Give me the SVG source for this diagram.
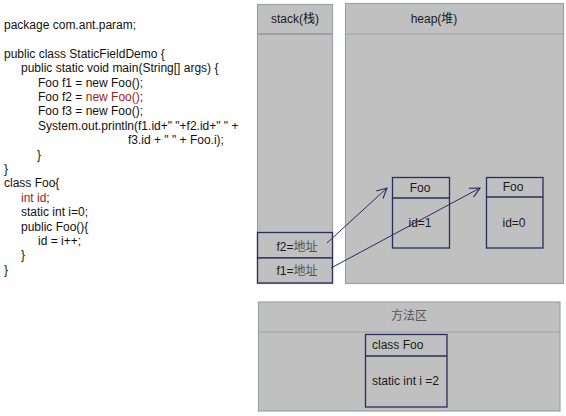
<svg xmlns="http://www.w3.org/2000/svg" width="566" height="416" viewBox="0 0 566 416">
<style>
.code{font-family:"Liberation Sans","Noto Sans CJK SC",sans-serif;font-size:12px;fill:#111}
.red{fill:#a3201c}
.panel{fill:#c0c0c0;stroke:#9aa3a3;stroke-width:1.2}
.box{fill:#c0c0c0;stroke:#2c2b5c;stroke-width:1.3}
.t{font-family:"Liberation Sans","Noto Sans CJK SC",sans-serif;font-size:12px;fill:#1a1a1a}
.cn{fill:#555}
.mid{text-anchor:middle}
.conn{stroke:#2c2b5c;stroke-width:1;fill:none;marker-end:url(#arr)}
</style>
<defs>
<marker id="arr" viewBox="0 0 12 12" refX="11" refY="6" markerWidth="12" markerHeight="12" markerUnits="userSpaceOnUse" orient="auto">
<polyline points="1,1 11,6 1,11" fill="none" stroke="#2c2b5c" stroke-width="1.1"/>
</marker>
</defs>
<rect width="566" height="416" fill="#fff"/>
<g id="code" class="code">
<text x="4" y="29">package com.ant.param;</text>
<text x="4" y="58">public class StaticFieldDemo {</text>
<text x="21" y="72">public static void main(String[] args) {</text>
<text x="38" y="87">Foo f1 = new Foo();</text>
<text x="38" y="101">Foo f2 = <tspan class="red">new Foo()</tspan>;</text>
<text x="38" y="115">Foo f3 = new Foo();</text>
<text x="38" y="130">System.out.println(f1.id+" "+f2.id+" " +</text>
<text x="128" y="144">f3.id + " " + Foo.i);</text>
<text x="37" y="159">}</text>
<text x="4" y="173">}</text>
<text x="4" y="187">class Foo{</text>
<text x="21" y="202"><tspan class="red">int id</tspan>;</text>
<text x="21" y="216">static int i=0;</text>
<text x="21" y="231">public Foo(){</text>
<text x="38" y="245">id = i++;</text>
<text x="21" y="259">}</text>
<text x="4" y="274">}</text>
</g>
<g id="stack">
<rect class="panel" x="257.5" y="4.5" width="75" height="279"/>
<line x1="257.5" y1="34" x2="332.5" y2="34" stroke="#9aa3a3" stroke-width="2"/>
<text class="t mid" x="295" y="23">stack(栈)</text>
</g>
<g id="heap">
<rect class="panel" x="345.5" y="3.5" width="218" height="280"/>
<line x1="345.5" y1="34" x2="563.5" y2="34" stroke="#9aa3a3" stroke-width="1.2"/>
<text class="t mid" x="434" y="23">heap(堆)</text>
</g>
<g id="f2">
<rect class="box" x="257.5" y="232.5" width="75" height="25.5"/>
<text class="t mid" x="297" y="251">f2=<tspan class="cn">地址</tspan></text>
</g>
<g id="f1">
<rect class="box" x="257.5" y="258" width="75" height="25"/>
<text class="t mid" x="297" y="275">f1=<tspan class="cn">地址</tspan></text>
</g>
<g id="foo1">
<rect class="box" x="392.5" y="177.5" width="57" height="70.5"/>
<line x1="392.5" y1="198" x2="449.5" y2="198" stroke="#2c2b5c" stroke-width="1.3"/>
<text class="t mid" x="420" y="192">Foo</text>
<text class="t mid" x="420" y="227">id=1</text>
</g>
<g id="foo0">
<rect class="box" x="486.5" y="177.5" width="56.5" height="70.5"/>
<line x1="486.5" y1="197" x2="543" y2="197" stroke="#2c2b5c" stroke-width="1.3"/>
<text class="t mid" x="513" y="191">Foo</text>
<text class="t mid" x="514" y="227">id=0</text>
</g>
<g id="method-area">
<rect class="panel" x="258.5" y="302" width="301.5" height="109"/>
<line x1="258.5" y1="332" x2="560" y2="332" stroke="#9aa3a3" stroke-width="1.2"/>
<text class="t mid cn" x="409" y="320">方法区</text>
</g>
<g id="class-foo">
<rect class="box" x="365.5" y="334.5" width="81.5" height="72.5"/>
<line x1="365.5" y1="356" x2="447" y2="356" stroke="#2c2b5c" stroke-width="1.3"/>
<text class="t" x="372" y="349">class Foo</text>
<text class="t" x="372" y="385">static int i =2</text>
</g>
<g id="connectors">
<line class="conn" x1="327" y1="243" x2="387" y2="188"/>
<line class="conn" x1="331" y1="268" x2="480" y2="188"/>
</g>
</svg>
